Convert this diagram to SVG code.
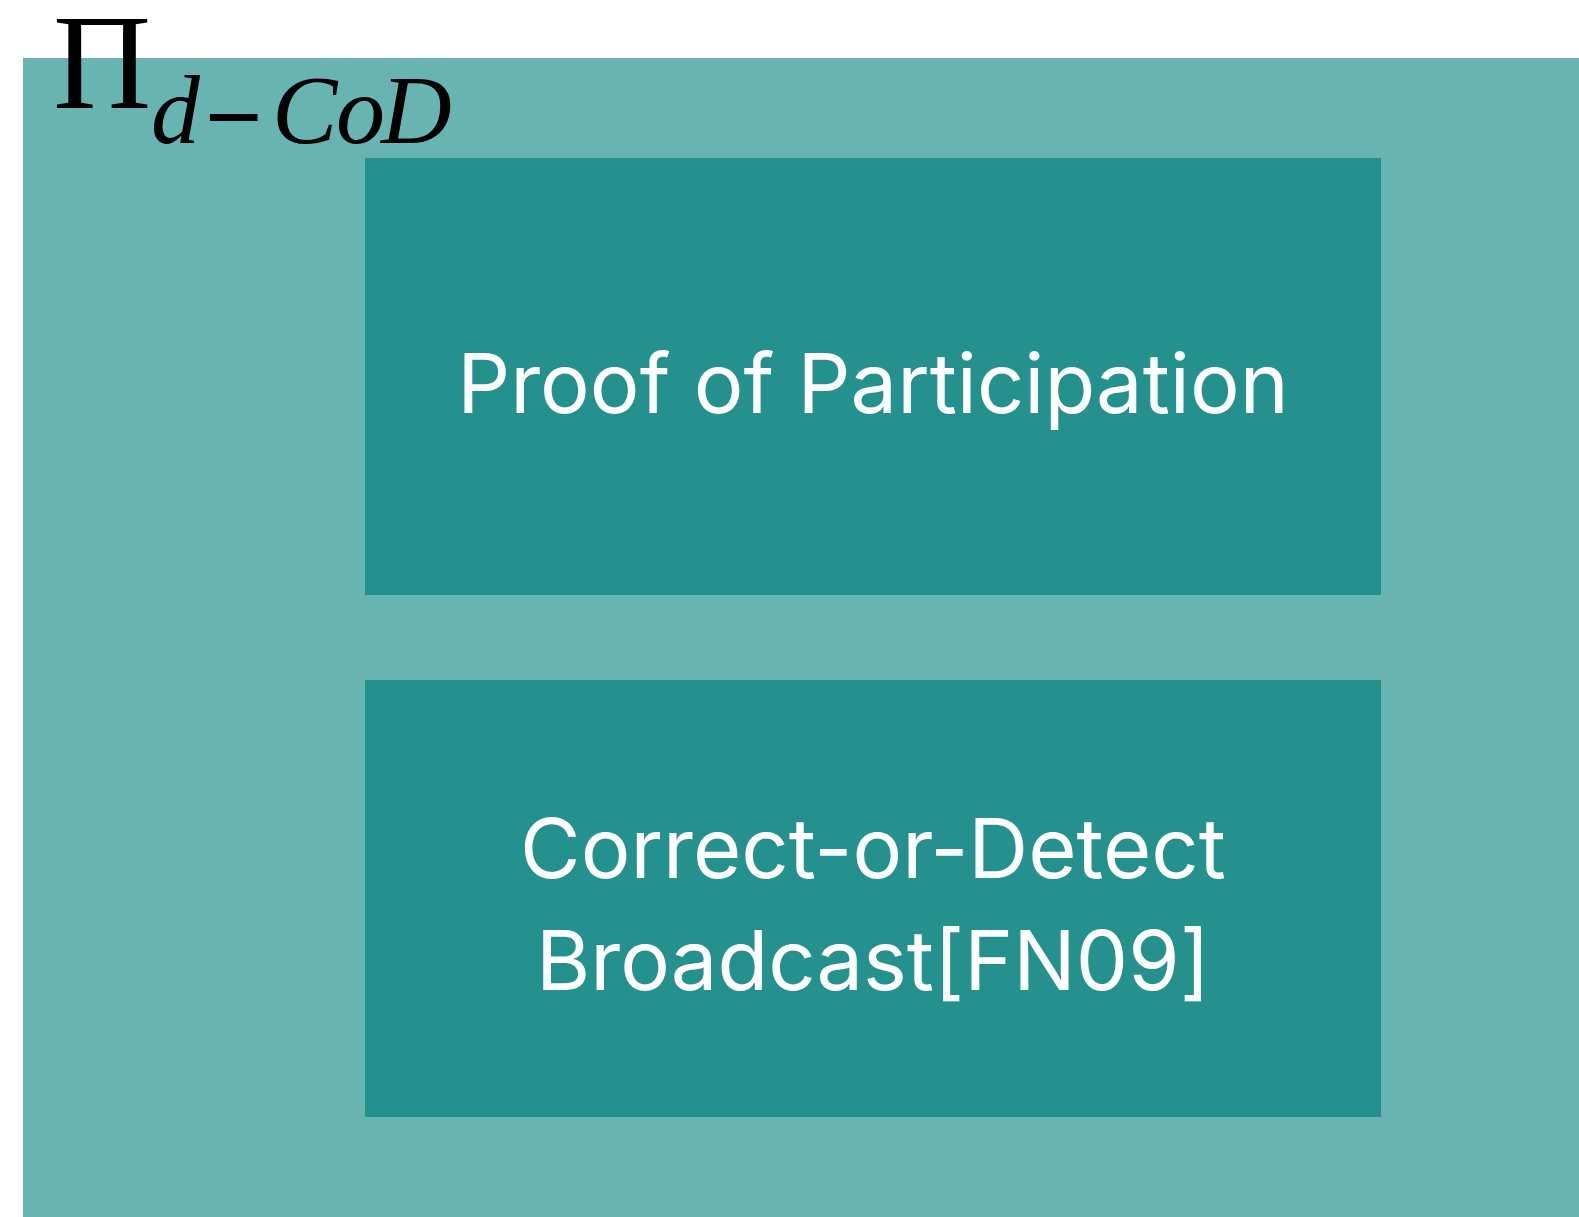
<svg xmlns="http://www.w3.org/2000/svg" width="1579" height="1217" viewBox="0 0 1579 1217">
<style>
.outer{fill:#68b4b2}
.box{fill:#24918f}
.lbl{font-family:Inter,"Noto Sans","Liberation Sans",sans-serif;font-size:83px;fill:#ffffff;text-anchor:middle}
.math{font-family:"Liberation Serif","DejaVu Serif",serif;fill:#000000}
</style>
<rect width="1579" height="1217" fill="#ffffff"/>
<g id="container">
<rect class="outer" x="23" y="58" width="1556" height="1159"/>
<text class="math" font-size="136" x="53" y="108">Π</text>
<text class="math" font-size="98"><tspan x="151" y="143" font-style="italic">d</tspan><tspan x="206" y="150" stroke="#000000" stroke-width="2">−</tspan><tspan x="272" y="143" font-style="italic">C</tspan><tspan x="336" y="143" font-style="italic">o</tspan><tspan x="381" y="143" font-style="italic">D</tspan></text>
</g>
<g id="node-pop">
<rect class="box" x="365" y="158" width="1016" height="437"/>
<text class="lbl" x="873" y="413">Proof of Participation</text>
</g>
<g id="node-cod">
<rect class="box" x="365" y="680" width="1016" height="437"/>
<text class="lbl" x="873" y="878">Correct-or-Detect</text>
<text class="lbl" x="873" y="990">Broadcast[FN09]</text>
</g>
<g id="connectors"/>
</svg>
